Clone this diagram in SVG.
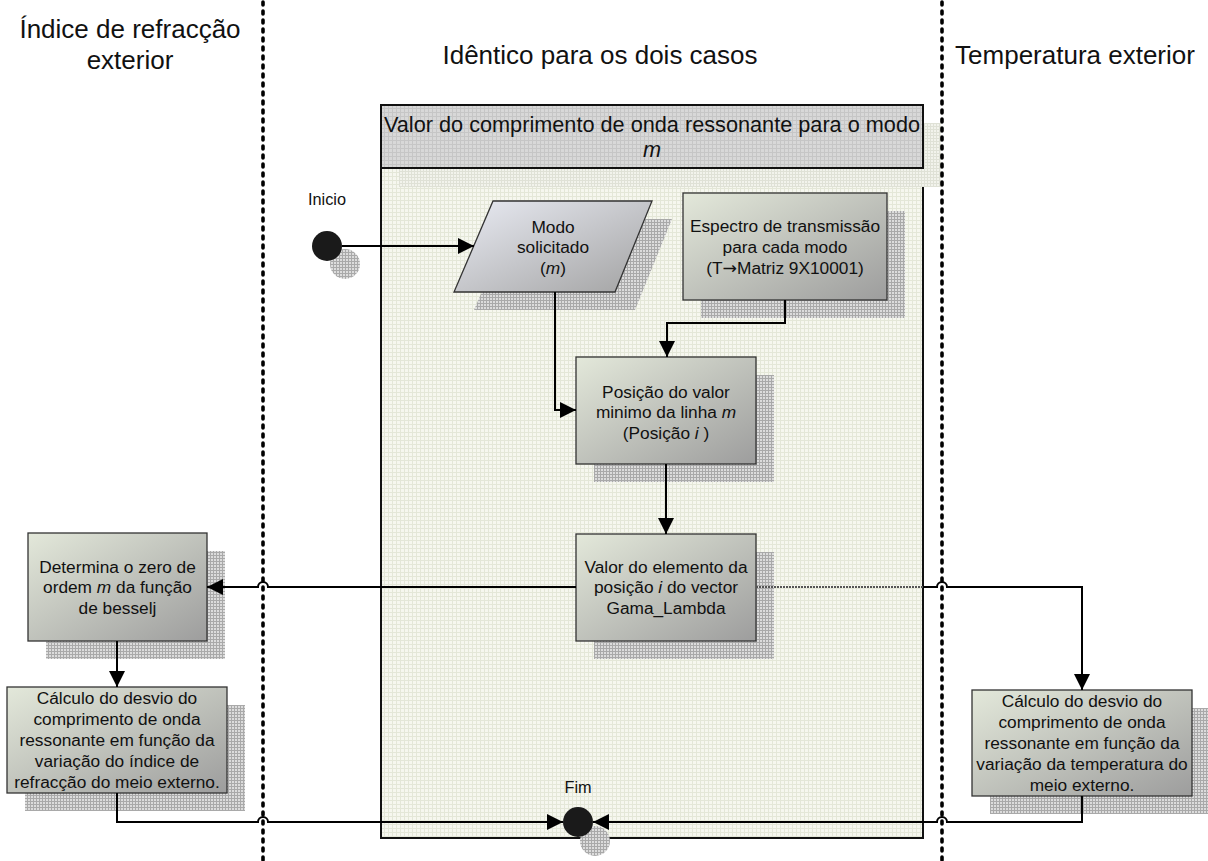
<svg xmlns="http://www.w3.org/2000/svg" width="1208" height="861" viewBox="0 0 1208 861">
<style>
.t{font-family:"Liberation Sans",Arial,sans-serif;fill:#111;text-anchor:middle}
.title{font-size:26px}
.hdr{font-size:21.7px}
.bx{font-size:17.3px}
.lbl{font-size:16.3px}
.box{stroke:#333;stroke-width:1.3}
.conn{fill:none;stroke:#000;stroke-width:2}
.lane{fill:none;stroke:#000;stroke-width:3.6;stroke-dasharray:3 6;stroke-linecap:round}
.sym{font-family:"DejaVu Sans",sans-serif}
</style>
<defs>
<pattern id="grid" width="4" height="4" patternUnits="userSpaceOnUse">
<rect width="4" height="4" fill="#f6f7ef"/>
<path d="M0 0.5H4M0.5 0V4" stroke="#e4e7d8" stroke-width="1"/>
</pattern>
<pattern id="hgrid" width="4" height="4" patternUnits="userSpaceOnUse">
<rect width="4" height="4" fill="#d8d8d8"/>
<path d="M0 0.5H4M0.5 0V4" stroke="#c6c6c6" stroke-width="1"/>
</pattern>
<pattern id="shd" width="3" height="3" patternUnits="userSpaceOnUse">
<rect width="3" height="3" fill="#dcdcdc"/>
<path d="M0 0.5H3M0.5 0V3" stroke="#a9a9a9" stroke-width="1"/>
</pattern>
<pattern id="shdl" width="3" height="3" patternUnits="userSpaceOnUse">
<rect width="3" height="3" fill="#f2f3ec"/>
<path d="M0 0.5H3M0.5 0V3" stroke="#dfe1d6" stroke-width="1"/>
</pattern>
<linearGradient id="gb" x1="0" y1="0" x2="1" y2="1">
<stop offset="0" stop-color="#e3e8da"/>
<stop offset="1" stop-color="#9d9d9d"/>
</linearGradient>
<linearGradient id="gp" x1="0" y1="0" x2="1" y2="1">
<stop offset="0" stop-color="#e9ebf3"/>
<stop offset="1" stop-color="#a2a2a2"/>
</linearGradient>
<marker id="ah" viewBox="0 0 10 10" refX="10" refY="5" markerWidth="16" markerHeight="16" markerUnits="userSpaceOnUse" orient="auto">
<path d="M0 0L10 5L0 10z" fill="#000"/>
</marker>
</defs>
<rect width="1208" height="861" fill="#fff"/>

<g id="lanes">
<text class="t title" x="130" y="38">Índice de refracção</text>
<text class="t title" x="130" y="69">exterior</text>
<text class="t title" x="600" y="64">Idêntico para os dois casos</text>
<text class="t title" x="1075" y="64">Temperatura exterior</text>
</g>

<g id="container">
<rect x="381" y="105" width="542" height="733" fill="url(#grid)" stroke="#111" stroke-width="2"/>
<rect x="399" y="168" width="542" height="19" fill="url(#shdl)"/>
<rect x="923" y="123" width="18" height="64" fill="url(#shdl)"/>
<rect x="381" y="105" width="542" height="63" fill="url(#hgrid)" stroke="#111" stroke-width="2"/>
<text class="t hdr" x="652" y="132">Valor do comprimento de onda ressonante para o modo</text>
<text class="t hdr" x="652" y="157" font-style="italic">m</text>
</g>

<g id="lane-lines">
<line class="lane" x1="263" y1="2" x2="263" y2="861"/>
<line class="lane" x1="942" y1="2" x2="942" y2="861"/>
</g>

<g id="inicio">
<circle cx="345" cy="264" r="15" fill="url(#shd)"/>
<circle cx="327" cy="246" r="15" fill="#1a1a1a"/>
<text class="t lbl" x="327" y="205">Inicio</text>
</g>

<g id="modo">
<polygon points="513,219 672,219 635,310 474,310" fill="url(#shd)"/>
<polygon class="box" points="493,201 652,201 615,292 454,292" fill="url(#gp)"/>
<text class="t bx" x="553" y="233">Modo</text>
<text class="t bx" x="553" y="253">solicitado</text>
<text class="t bx" x="553" y="274">(<tspan font-style="italic">m</tspan>)</text>
</g>

<g id="espectro">
<rect x="701" y="211" width="204" height="107" fill="url(#shd)"/>
<rect class="box" x="683" y="193" width="204" height="107" fill="url(#gb)"/>
<text class="t bx" x="785" y="232">Espectro de transmissão</text>
<text class="t bx" x="785" y="253">para cada modo</text>
<text class="t bx" x="785" y="274">(T<tspan class="sym">→</tspan>Matriz 9X10001)</text>
</g>

<g id="posicao">
<rect x="594" y="375" width="180" height="107" fill="url(#shd)"/>
<rect class="box" x="576" y="357" width="180" height="107" fill="url(#gb)"/>
<text class="t bx" x="666" y="398">Posição do valor</text>
<text class="t bx" x="666" y="418">minimo da linha <tspan font-style="italic">m</tspan></text>
<text class="t bx" x="666" y="439">(Posição <tspan font-style="italic">i</tspan> )</text>
</g>

<g id="valor">
<rect x="594" y="552" width="180" height="107" fill="url(#shd)"/>
<rect class="box" x="576" y="534" width="180" height="107" fill="url(#gb)"/>
<text class="t bx" x="666" y="573">Valor do elemento da</text>
<text class="t bx" x="666" y="593">posição <tspan font-style="italic">i</tspan> do vector</text>
<text class="t bx" x="666" y="614">Gama_Lambda</text>
</g>

<g id="determina">
<rect x="46" y="551" width="179" height="108" fill="url(#shd)"/>
<rect class="box" x="28" y="533" width="179" height="108" fill="url(#gb)"/>
<text class="t bx" x="117.5" y="573">Determina o zero de</text>
<text class="t bx" x="117.5" y="593">ordem <tspan font-style="italic">m</tspan> da função</text>
<text class="t bx" x="117.5" y="614">de besselj</text>
</g>

<g id="calculo-indice">
<rect x="25" y="705" width="220" height="106" fill="url(#shd)"/>
<rect class="box" x="7" y="687" width="220" height="106" fill="url(#gb)"/>
<text class="t bx" x="117" y="704">Cálculo do desvio do</text>
<text class="t bx" x="117" y="725">comprimento de onda</text>
<text class="t bx" x="117" y="746">ressonante em função da</text>
<text class="t bx" x="117" y="767">variação do índice de</text>
<text class="t bx" x="117" y="788">refracção do meio externo.</text>
</g>

<g id="calculo-temperatura">
<rect x="990" y="708" width="220" height="106" fill="url(#shd)"/>
<rect class="box" x="972" y="690" width="220" height="106" fill="url(#gb)"/>
<text class="t bx" x="1082" y="707">Cálculo do desvio do</text>
<text class="t bx" x="1082" y="728">comprimento de onda</text>
<text class="t bx" x="1082" y="749">ressonante em função da</text>
<text class="t bx" x="1082" y="770">variação da temperatura do</text>
<text class="t bx" x="1082" y="791">meio externo.</text>
</g>

<g id="fim">
<circle cx="595" cy="841" r="15" fill="url(#shd)"/>
<circle cx="578" cy="822" r="15" fill="#1a1a1a"/>
<text class="t lbl" x="578" y="793">Fim</text>
</g>

<g id="connectors">
<path class="conn" d="M342 246H474" marker-end="url(#ah)"/>
<path class="conn" d="M555 292V410H576" marker-end="url(#ah)"/>
<path class="conn" d="M785 300V323H667V357" marker-end="url(#ah)"/>
<path class="conn" d="M666 464V534" marker-end="url(#ah)"/>
<path class="conn" d="M576 587H268A5 5 0 0 0 258 587H207" marker-end="url(#ah)"/>
<path d="M756 587H923" fill="none" stroke="#555" stroke-width="2" stroke-dasharray="2 1"/>
<path class="conn" d="M923 587H937A5 5 0 0 1 947 587H1082V690" marker-end="url(#ah)"/>
<path class="conn" d="M117 641V687" marker-end="url(#ah)"/>
<path class="conn" d="M117 793V822H258A5 5 0 0 1 268 822H563" marker-end="url(#ah)"/>
<path class="conn" d="M1082 796V822H947A5 5 0 0 0 937 822H593" marker-end="url(#ah)"/>
</g>
</svg>
